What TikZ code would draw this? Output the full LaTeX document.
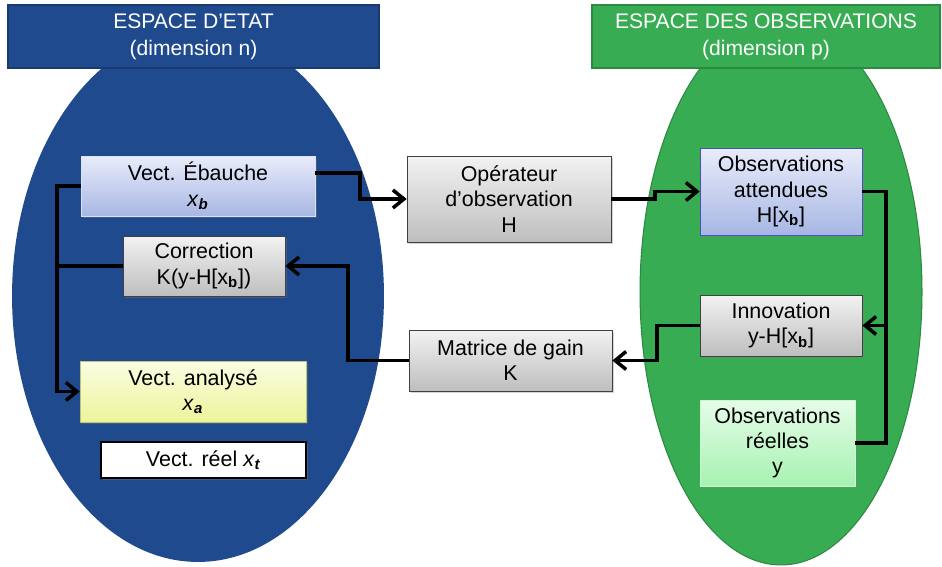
\documentclass[tikz,border=0pt]{standalone}
\usepackage{fontspec}
\setmainfont{Liberation Sans}
\usetikzlibrary{positioning,arrows.meta,shadows}

\definecolor{etatblue}{RGB}{31,75,142}
\definecolor{etatline}{RGB}{24,58,110}
\definecolor{obsgreen}{RGB}{56,172,83}
\definecolor{obsline}{RGB}{43,138,65}
\definecolor{bluetop}{RGB}{233,236,250}
\definecolor{bluebot}{RGB}{167,183,228}
\definecolor{greytop}{RGB}{242,242,242}
\definecolor{greybot}{RGB}{190,190,190}
\definecolor{yellowtop}{RGB}{251,253,226}
\definecolor{yellowbot}{RGB}{236,244,154}
\definecolor{greentop}{RGB}{230,252,232}
\definecolor{greenbot}{RGB}{166,242,178}

\begin{document}
\begin{tikzpicture}[x=0.02cm, y=-0.02cm,
  box/.style={align=center, font=\fontsize{12.2}{14.4}\selectfont, inner sep=1pt,
    drop shadow={shadow xshift=1pt, shadow yshift=-1pt, opacity=0.35}},
  greybox/.style={box, draw=black!75, top color=greytop, bottom color=greybot},
  bluebox/.style={box, draw=bluebot!90!black, top color=bluetop, bottom color=bluebot},
  header/.style={draw, line width=1pt, align=center, text=white,
    font=\fontsize{12}{15.3}\selectfont, minimum height=1.26cm},
  link/.style={line width=2.1pt},
  arrow/.style={link, -{Straight Barb[length=2.2mm, width=3.6mm, line width=2pt]}}
]
\useasboundingbox (0,0) rectangle (942,567);

% espaces
\fill[etatblue] (198,296) ellipse [x radius=3.72cm, y radius=5.32cm];
\fill[obsgreen, draw=obsline, line width=0.6pt] (781,292) ellipse [x radius=2.82cm, y radius=5.46cm];
\node[header, fill=etatblue, draw=etatline, minimum width=7.42cm] (etat) at (193.5,36.5)
  {ESPACE D’ETAT\\(dimension n)};
\node[header, fill=obsgreen, draw=obsline, minimum width=6.96cm] (obs) at (766,36.5)
  {ESPACE DES OBSERVATIONS\\(dimension p)};

% espace d'etat
\node[bluebox, draw=bluetop!80!bluebot, minimum width=4.68cm, minimum height=1.2cm] (ebauche) at (198,186)
  {Vect. Ébauche\\\textit{x}\textsubscript{\textit{\textbf{b}}}};
\node[greybox, minimum width=3.24cm, minimum height=1.2cm] (correction) at (204,266)
  {Correction\\K(y-H[x\textsubscript{\textbf{b}}])};
\node[box, draw=yellowbot!80!black, top color=yellowtop, bottom color=yellowbot,
  minimum width=4.52cm, minimum height=1.22cm] (analyse) at (193,391.5)
  {Vect. analysé\\\textit{x}\textsubscript{\textit{\textbf{a}}}};
\node[box, draw=black, line width=1.2pt, fill=white, minimum width=4.1cm, minimum height=0.72cm] (reel) at (203.5,460)
  {Vect. réel \textit{x}\textsubscript{\textit{\textbf{t}}}};

% operateurs
\node[greybox, minimum width=4.08cm, minimum height=1.72cm] (operateur) at (509,199)
  {Opérateur\\d’observation\\H};
\node[greybox, minimum width=4.06cm, minimum height=1.22cm] (gain) at (510.5,360.5)
  {Matrice de gain\\K};

% espace des observations
\node[bluebox, draw=blue!45!bluebot!80!black, minimum width=3.24cm, minimum height=1.74cm] (attendues) at (781,191.5)
  {Observations\\attendues\\H[x\textsubscript{\textbf{b}}]};
\node[greybox, minimum width=3.24cm, minimum height=1.22cm] (innovation) at (781,325.5)
  {Innovation\\y-H[x\textsubscript{\textbf{b}}]};
\node[box, draw=greenbot!60!white, top color=greentop, bottom color=greenbot,
  minimum width=3.1cm, minimum height=1.72cm] (reelles) at (777.5,443)
  {Observations\\réelles\\y};

% liaisons
\coordinate (rbus) at (886,325.5);
\coordinate (lbus) at (57,266);
\draw[arrow] ([yshift=0.26cm]ebauche.east) -- ++(45,0) |- (operateur.west);
\draw[arrow] (operateur.east) -- ++(44,0) |- (attendues.west);
\draw[arrow] (attendues.east) -| (rbus) -- (innovation.east);
\draw[link] (reelles.east) -| (rbus);
\draw[arrow] (innovation.west) -- ++(-43,0) |- (gain.east);
\draw[arrow] (gain.west) -- ++(-61,0) |- (correction.east);
\draw[arrow] (ebauche.west) -| (lbus) |- (analyse.west);
\draw[link] (correction.west) -- (lbus);
\end{tikzpicture}
\end{document}
